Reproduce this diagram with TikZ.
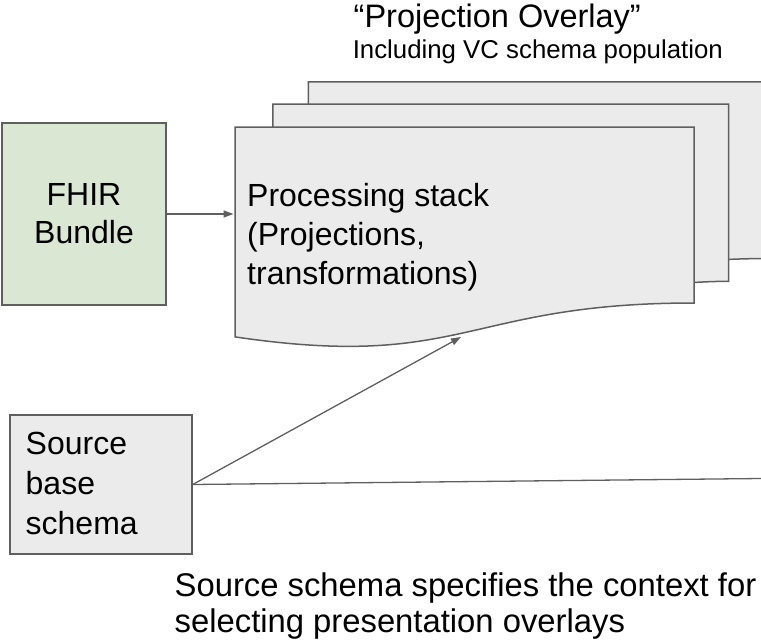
\documentclass[tikz,border=0pt]{standalone}
\usepackage{fontspec}
\setmainfont{Liberation Sans}
\usetikzlibrary{arrows.meta}
\definecolor{edge}{HTML}{5F5F5F}
\definecolor{sheet}{HTML}{EBEBEB}
\definecolor{fhirfill}{HTML}{D9E7D3}
\begin{document}
\begin{tikzpicture}[x=1pt,y=-1pt,
  boxline/.style={draw=edge, line width=1.5pt},
  conn/.style={draw=edge, line width=1.3pt},
  tipend/.style={-{Triangle[length=10pt,width=7pt]}},
  bigtext/.style={inner sep=0pt, text=black, align=left},
]
\useasboundingbox (0,0) rectangle (761,640);
\begin{scope}
\clip (0,0) rectangle (761,640);
% back sheet
\path[boxline, fill=sheet] (308.4,81.9) -- (768.2,81.9) -- (768.2,258.5)
  .. controls (748.4,258.5) and (728.7,259.4) .. (728.7,259.4) -- (308.4,259.4) -- cycle;
% middle sheet
\path[boxline, fill=sheet] (272.8,104.2) -- (728.7,104.2) -- (728.7,281.3)
  .. controls (711.4,281.3) and (694,282.5) .. (694,282.5) -- (272.8,282.5) -- cycle;
% front sheet
\path[boxline, fill=sheet] (235,127) -- (694,127) -- (694,303)
  .. controls (464.5,303) and (464.5,370.7) .. (235,336.9) -- cycle;
\end{scope}

\node[bigtext, anchor=north west, font=\fontsize{32}{39}\selectfont] (stack) at (247,183)
  {Processing stack\\(Projections,\\transformations)};

\node[boxline, fill=fhirfill, minimum width=164pt, minimum height=182pt, inner sep=0pt,
  align=center, font=\fontsize{32}{38}\selectfont] (fhir) at (84,214) {FHIR\\Bundle};

\node[boxline, fill=sheet, minimum width=182pt, minimum height=139pt, inner sep=0pt] (src) at (101,484.5) {};
\node[bigtext, anchor=north west, font=\fontsize{32}{40}\selectfont] (srctext) at (25.5,432)
  {Source\\base\\schema};

\node[inner sep=0pt, anchor=base west, font=\fontsize{32.5}{39}\selectfont] (title) at (353.5,27.5)
  {“Projection Overlay”};
\node[inner sep=0pt, anchor=base west, font=\fontsize{25.8}{30}\selectfont] (subtitle) at (352.6,58)
  {Including VC schema population};

\node[bigtext, anchor=north west, font=\fontsize{32.8}{36}\selectfont] (note) at (174.5,572.5)
  {Source schema specifies the context for\\selecting presentation overlays};

\coordinate (stackleft) at (233.5,214);
\coordinate (stacktip) at (461,337);
\coordinate (rightend) at (761,478.5);

\draw[conn, tipend] (fhir.east) -- (stackleft);
\draw[conn, tipend] (src.east) -- (stacktip);
\draw[conn] (src.east) -- (rightend);
\end{tikzpicture}
\end{document}
